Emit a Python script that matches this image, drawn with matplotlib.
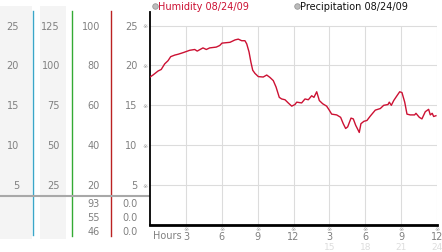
import matplotlib
matplotlib.use("Agg")
import matplotlib.pyplot as plt
from matplotlib.transforms import blended_transform_factory
from matplotlib.patches import Rectangle

# ---------------- data ----------------
hours = [0.0, 0.25, 0.67, 0.94, 1.23, 1.51, 1.73, 2.07, 2.34, 2.76, 3.32, 3.74, 3.95,
         4.43, 4.71, 4.99, 5.54, 5.83, 6.02, 6.69, 7.11, 7.38, 7.67, 7.94, 8.09, 8.28,
         8.44, 8.59, 8.78, 9.06, 9.47, 9.76, 10.03, 10.31, 10.54, 10.81, 11.01, 11.29,
         11.56, 11.85, 12.12, 12.27, 12.68, 12.96, 13.24, 13.52, 13.71, 13.94, 14.16,
         14.44, 14.77, 14.99, 15.19, 15.61, 15.94, 16.16, 16.36, 16.53, 16.81, 17.00,
         17.20, 17.37, 17.50, 17.64, 17.89, 18.14, 18.42, 18.84, 19.26, 19.54, 19.90,
         20.01, 20.18, 20.38, 20.65, 20.88, 21.07, 21.30, 21.49, 21.76, 22.13, 22.24,
         22.52, 22.74, 23.02, 23.30, 23.44, 23.60, 23.72, 23.91]
humidity = [18.55, 18.8, 19.3, 19.5, 20.2, 20.6, 21.1, 21.3, 21.4, 21.6, 21.9, 22.0, 21.8,
            22.2, 22.0, 22.2, 22.3, 22.5, 22.8, 22.9, 23.2, 23.3, 23.1, 23.1, 22.7, 21.7,
            20.4, 19.4, 19.0, 18.6, 18.55, 18.8, 18.5, 18.1, 17.3, 16.0, 15.8, 15.7,
            15.3, 14.9, 15.1, 15.4, 15.3, 15.8, 15.7, 16.2, 16.0, 16.7, 15.6,
            15.2, 14.9, 14.4, 13.9, 13.8, 13.5, 12.7, 12.1, 12.3, 13.4, 13.3,
            12.5, 12.0, 11.6, 12.7, 13.0, 13.1, 13.65, 14.4, 14.6, 15.0, 15.1,
            15.4, 15.0, 15.6, 16.2, 16.7, 16.6, 15.4, 13.9, 13.8, 13.8, 14.0,
            13.5, 13.3, 14.2, 14.5, 13.8, 14.0, 13.6, 13.7]

y_ticks = [25, 20, 15, 10, 5]
col1_labels = ["25", "20", "15", "10", "5"]
col2_labels = ["125", "100", "75", "50", "25"]
col3_labels = ["100", "80", "60", "40", "20"]
col4_labels = ["25", "20", "15", "10", "5"]
x_ticks = [3, 6, 9, 12, 15, 18, 21, 24]
x_labels = ["3", "6", "9", "12", "3", "6", "9", "12"]
x_labels_faint = ["", "", "", "", "15", "18", "21", "24"]
extra_col3 = ["93", "55", "46"]
extra_col4 = ["0.0", "0.0", "0.0"]
legend_items = ["Humidity 08/24/09", "Precipitation 08/24/09"]

# ---------------- figure ----------------
W, H = 442, 253
fig = plt.figure(figsize=(W / 100, H / 100), dpi=100)
fig.patch.set_facecolor("white")

# background overlay for the left panel (pixel coordinates)
bg = fig.add_axes([0, 0, 1, 1], zorder=0)
bg.set_xlim(0, W)
bg.set_ylim(H, 0)
bg.axis("off")
bg.add_patch(Rectangle((0, 7), 32, 233, color="#f4f4f4", lw=0))
bg.add_patch(Rectangle((40, 7), 26, 233, color="#f4f4f4", lw=0))
bg.plot([33, 33], [12, 236], color="#3aa6c8", lw=1.0)
bg.plot([72, 72], [12, 237], color="#33aa33", lw=1.0)
bg.plot([111, 111], [12, 237], color="#bb2222", lw=1.0)
bg.plot([0, 149], [197, 197], color="#a8a8a8", lw=1.5)

ax = fig.add_axes([150 / W, 27 / H, 287 / W, 213 / H], zorder=1)
ax.patch.set_alpha(0)
ax.set_xlim(0, 24)
ax.set_ylim(0, 26.7)

# grid
for yv in y_ticks:
    ax.axhline(yv, color="#dcdcdc", lw=0.8, zorder=0)
ax.vlines(x_ticks, 0, max(y_ticks), color="#dcdcdc", lw=0.8, zorder=0)

ax.plot(hours, humidity, color="#cc1133", lw=1.0, zorder=3)

for s in ["top", "right"]:
    ax.spines[s].set_visible(False)
ax.spines["left"].set_color("black")
ax.spines["left"].set_linewidth(1.3)
ax.spines["bottom"].set_color("black")
ax.spines["bottom"].set_linewidth(2.0)
ax.set_xticks([])
ax.set_yticks([])

txt_col = "#808080"
fs = 7
ytr = blended_transform_factory(fig.transFigure, ax.transData)
for yv, l1, l2, l3, l4 in zip(y_ticks, col1_labels, col2_labels, col3_labels, col4_labels):
    fig.text(19 / W, yv, l1, transform=ytr, ha="right", va="center", fontsize=fs, color=txt_col)
    fig.text(60 / W, yv, l2, transform=ytr, ha="right", va="center", fontsize=fs, color=txt_col)
    fig.text(100 / W, yv, l3, transform=ytr, ha="right", va="center", fontsize=fs, color=txt_col)
    fig.text(137.5 / W, yv, l4, transform=ytr, ha="right", va="center", fontsize=fs, color=txt_col)
    fig.text(145.5 / W, yv, "※", transform=ytr, ha="center", va="center", fontsize=4.5, color="#999999")

row_y = [204, 218, 232]
for ry, a, b in zip(row_y, extra_col3, extra_col4):
    fig.text(100 / W, 1 - ry / H, a, ha="right", va="center", fontsize=fs, color=txt_col)
    fig.text(137.5 / W, 1 - ry / H, b, ha="right", va="center", fontsize=fs, color=txt_col)

xtr = blended_transform_factory(ax.transData, fig.transFigure)
fig.text(153 / W, 1 - 236 / H, "Hours", ha="left", va="center", fontsize=fs, color=txt_col)
for xv, lab, faint in zip(x_ticks, x_labels, x_labels_faint):
    fig.text(xv, 1 - 230 / H, "※", transform=xtr, ha="center", va="center", fontsize=4.5, color="#999999")
    fig.text(xv, 1 - 236.5 / H, lab, transform=xtr, ha="center", va="center", fontsize=fs, color=txt_col)
    if faint:
        fig.text(xv, 1 - 247.5 / H, faint, transform=xtr, ha="center", va="center", fontsize=6.5, color="#dddddd")

# legend
leg_x = [155, 297]
leg_col = ["#cc1133", "#111111"]
for lx, name, c in zip(leg_x, legend_items, leg_col):
    bg.plot([lx], [7], marker="o", ms=4, mfc="#bbbbbb", mec="#999999", mew=0.6)
    fig.text((lx + 3) / W, 1 - 7 / H, name, ha="left", va="center", fontsize=fs, color=c)

fig.savefig("out.png", dpi=100)
